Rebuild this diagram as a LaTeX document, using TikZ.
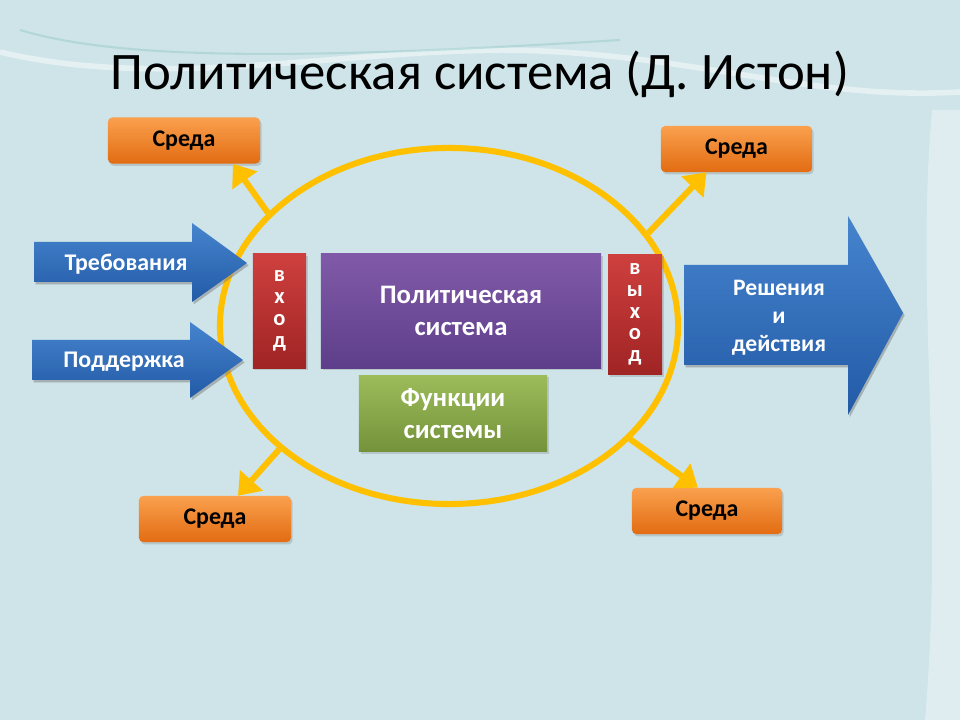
\documentclass[tikz,border=0pt]{standalone}
\usepackage{fontspec}
\setmainfont{Carlito}
\usetikzlibrary{shapes.geometric,arrows.meta,calc,shadows}

\definecolor{bgteal}{RGB}{206,228,232}
\definecolor{sunny}{RGB}{255,192,0}
\definecolor{orangeT}{RGB}{250,160,78}
\definecolor{orangeB}{RGB}{226,108,18}
\definecolor{redT}{RGB}{206,64,62}
\definecolor{redB}{RGB}{160,36,36}
\definecolor{violT}{RGB}{128,90,168}
\definecolor{violB}{RGB}{94,62,138}
\definecolor{greenT}{RGB}{156,188,90}
\definecolor{greenB}{RGB}{116,146,58}
\definecolor{blueT}{RGB}{70,132,206}
\definecolor{blueB}{RGB}{34,90,166}

\tikzstyle{shade}=[drop shadow={opacity=0.3,shadow xshift=0.04cm,shadow yshift=-0.06cm}]
\tikzstyle{sreda}=[rectangle,rounded corners=3pt,top color=orangeT,bottom color=orangeB,text=black,font=\bfseries\fontsize{17}{18}\selectfont,minimum width=3.8cm,minimum height=1.15cm,shade]
\tikzstyle{gate}=[rectangle,top color=redT,bottom color=redB,text=white,align=center,font=\bfseries\fontsize{16}{15.5}\selectfont,minimum width=1.33cm,shade]
\tikzstyle{core}=[rectangle,text=white,align=center,font=\bfseries\fontsize{19}{22.5}\selectfont,shade]
\tikzstyle{bluearrow}=[top color=blueT,bottom color=blueB,shade]
\tikzstyle{arrtext}=[text=white,align=center,font=\bfseries\fontsize{17}{20}\selectfont]
\tikzstyle{flow}=[sunny,line width=4.3pt,-{Triangle[width=21pt,length=14.5pt]}]

\begin{document}
\begin{tikzpicture}[x=0.025cm,y=-0.025cm]

  \fill[bgteal] (0,0) rectangle (960,720);
  \useasboundingbox (0,0) rectangle (960,720);
  % background swooshes
  \draw[white,opacity=0.45,line width=4pt] (0,52) .. controls (180,95) and (380,40) .. (560,52) .. controls (720,62) and (820,100) .. (960,92);
  \draw[teal!40,opacity=0.5,line width=1.5pt] (20,30) .. controls (120,60) and (300,60) .. (620,40);
  \fill[white,opacity=0.35] (932,110) .. controls (915,300) and (945,480) .. (925,720) -- (960,720) -- (960,110) -- cycle;

  \node[anchor=base,inner sep=0pt,font=\fontsize{37.5}{40}\selectfont] (title) at (480,90) {Политическая система (Д. Истон)};

  \node[sreda] (s1) at (184,140.5) {Среда};
  \node[sreda,minimum width=3.78cm] (s2) at (736.5,149) {Среда};
  \node[sreda] (s3) at (215,519) {Среда};
  \node[sreda,minimum width=3.75cm] (s4) at (707,511) {Среда};

  \node[ellipse,draw=sunny,line width=4.3pt,inner sep=0pt,minimum width=11.45cm,minimum height=8.9cm] (ell) at (449,326) {};

  \draw[flow] (ell.148)--($(s1.south)+(49,0)$); \draw[flow] (ell.25)--($(s2.south)+(-30,0)$);
  \draw[flow] (ell.216)--($(s3.north)+(23,0)$); \draw[flow] (ell.328)--($(s4.north)+(-9,0)$);

  % inputs and output
  \shade[bluearrow] (34,242)--(192,242)--(192,223)--(247,263)--(192,302)--(192,282)--(34,282)--cycle;
  \shade[bluearrow] (32,340)--(190,340)--(190,322)--(243,360)--(190,398)--(190,380)--(32,380)--cycle;
  \shade[bluearrow] (684,265)--(848,265)--(848,216)--(903,313)--(848,415)--(848,365)--(684,365)--cycle;
  \node[arrtext] (treb) at (126,264) {Требования};
  \node[arrtext] (podd) at (124,362) {Поддержка};
  \node[arrtext,font=\bfseries\fontsize{16.8}{20}\selectfont] (resh) at (779,318) {Решения\\и\\действия};

  \node[gate,minimum height=2.85cm] (vhod) at (279.5,311) {в\\х\\о\\д};
  \node[core,top color=violT,bottom color=violB,minimum width=7cm,minimum height=2.85cm] (polsys) at (461,311) {Политическая\\система};
  \node[gate,minimum width=1.35cm,minimum height=3.02cm] (vyhod) at (635,314.5) {в\\ы\\х\\о\\д};
  \node[core,top color=greenT,bottom color=greenB,minimum width=4.7cm,minimum height=1.92cm] (func) at (453,413.5) {Функции\\системы};

\end{tikzpicture}
\end{document}
